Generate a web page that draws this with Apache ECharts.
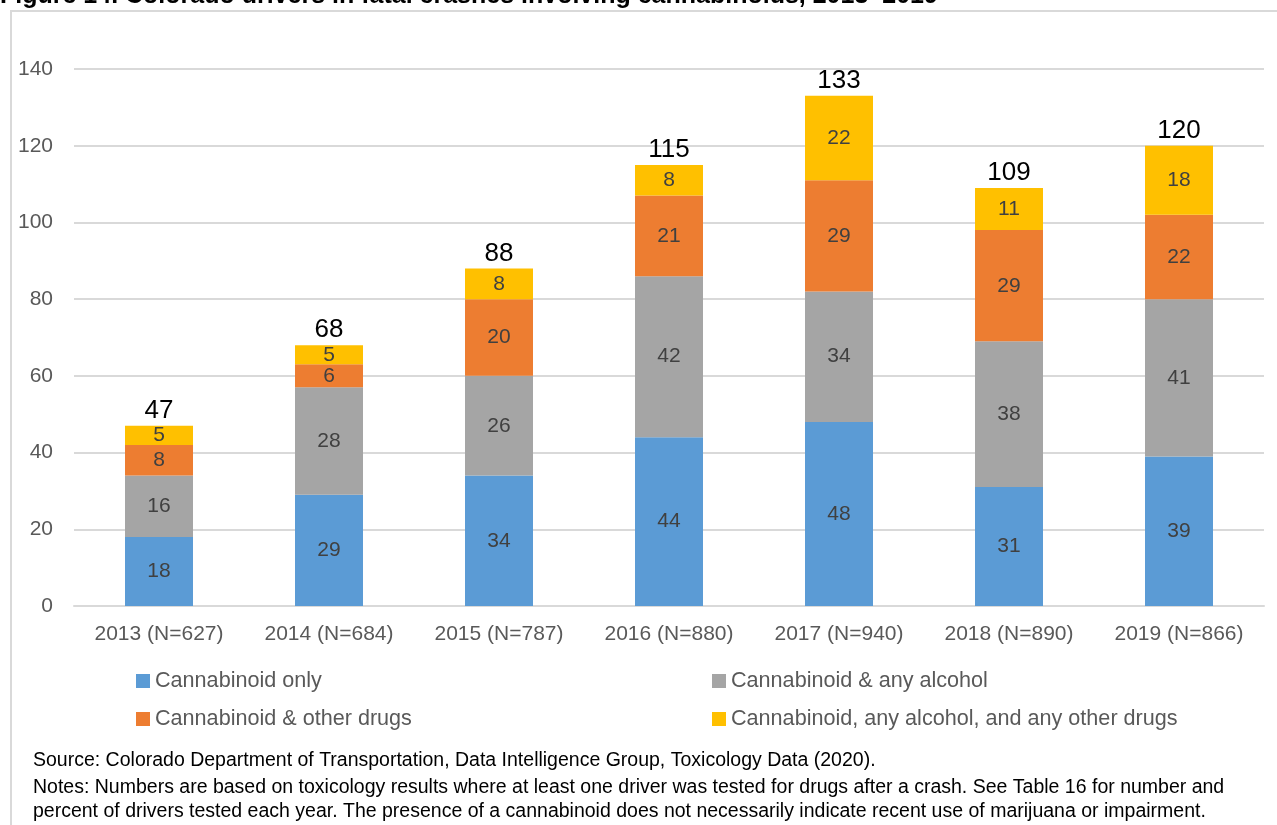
<!DOCTYPE html>
<html>
<head>
<meta charset="utf-8">
<script src="https://cdn.jsdelivr.net/npm/echarts@6/dist/echarts.min.js"></script>
<style>
  html, body { margin: 0; padding: 0; background: #fff; }
  #chart { width: 1277px; height: 825px; }
</style>
</head>
<body>
<div id="chart"></div>
<script>
var years = ['2013 (N=627)', '2014 (N=684)', '2015 (N=787)', '2016 (N=880)', '2017 (N=940)', '2018 (N=890)', '2019 (N=866)'];
var cannabinoidOnly = [18, 29, 34, 44, 48, 31, 39];
var withAlcohol = [16, 28, 26, 42, 34, 38, 41];
var withOtherDrugs = [8, 6, 20, 21, 29, 29, 22];
var withAll = [5, 5, 8, 8, 22, 11, 18];
var yTicks = [0, 20, 40, 60, 80, 100, 120, 140];

var totals = years.map(function (y, i) {
  return cannabinoidOnly[i] + withAlcohol[i] + withOtherDrugs[i] + withAll[i];
});

var font = 'Liberation Sans';
var chart = echarts.init(document.getElementById('chart'));

function seg(name, data, color) {
  return {
    name: name,
    type: 'bar',
    stack: 'total',
    barWidth: '40%',
    data: data,
    itemStyle: { color: color },
    label: {
      show: true,
      position: 'inside',
      color: '#404040',
      fontFamily: font,
      fontSize: 21
    }
  };
}

var option = {
  animation: false,
  textStyle: { fontFamily: font },
  grid: { left: 74, right: 13, top: 69, bottom: 219 },
  xAxis: {
    type: 'category',
    data: years,
    axisLine: { lineStyle: { color: '#d9d9d9', width: 2 } },
    axisTick: { show: false },
    axisLabel: { color: '#595959', fontSize: 21, margin: 18, fontFamily: font }
  },
  yAxis: {
    type: 'value',
    min: yTicks[0],
    max: yTicks[yTicks.length - 1],
    interval: 20,
    axisLine: { show: false },
    axisTick: { show: false },
    splitLine: { lineStyle: { color: '#d9d9d9', width: 2 } },
    axisLabel: { color: '#595959', fontSize: 21, margin: 21, fontFamily: font }
  },
  legend: [
    {
      orient: 'vertical',
      left: 131, top: 665,
      itemWidth: 14, itemHeight: 14, itemGap: 16,
      icon: 'rect',
      textStyle: { color: '#595959', fontSize: 21.6, fontFamily: font },
      data: ['Cannabinoid only', 'Cannabinoid & other drugs']
    },
    {
      orient: 'vertical',
      left: 707, top: 665,
      itemWidth: 14, itemHeight: 14, itemGap: 16,
      icon: 'rect',
      textStyle: { color: '#595959', fontSize: 21.6, fontFamily: font },
      data: ['Cannabinoid & any alcohol', 'Cannabinoid, any alcohol, and any other drugs']
    }
  ],
  graphic: [
    {
      type: 'rect',
      shape: { x: 11, y: 11, width: 1300, height: 900 },
      style: { fill: 'none', stroke: '#d9d9d9', lineWidth: 2 },
      silent: true
    },
    {
      type: 'text', left: 0, top: -16,
      style: {
        text: 'Figure 14. Colorado drivers in fatal crashes involving cannabinoids, 2013\u20132019',
        font: 'bold 25px ' + font, fill: '#000'
      }
    },
    {
      type: 'text', left: 33, top: 751,
      style: {
        text: 'Source: Colorado Department of Transportation, Data Intelligence Group, Toxicology Data (2020).',
        font: '19.5px ' + font, fill: '#000'
      }
    },
    {
      type: 'text', left: 33, top: 776,
      style: {
        text: 'Notes: Numbers are based on toxicology results where at least one driver was tested for drugs after a crash. See Table 16 for number and\npercent of drivers tested each year. The presence of a cannabinoid does not necessarily indicate recent use of marijuana or impairment.',
        font: '19.5px ' + font, fill: '#000', lineHeight: 24
      }
    }
  ],
  series: [
    seg('Cannabinoid only', cannabinoidOnly, '#5B9BD5'),
    seg('Cannabinoid & any alcohol', withAlcohol, '#A5A5A5'),
    seg('Cannabinoid & other drugs', withOtherDrugs, '#ED7D31'),
    seg('Cannabinoid, any alcohol, and any other drugs', withAll, '#FFC000'),
    {
      name: 'Total',
      type: 'bar',
      stack: 'total',
      barWidth: '40%',
      data: totals.map(function () { return 0; }),
      itemStyle: { color: 'transparent' },
      label: {
        show: true,
        position: 'top',
        distance: 2,
        color: '#000',
        fontSize: 26,
        fontFamily: font,
        formatter: function (p) { return totals[p.dataIndex]; }
      }
    }
  ]
};

chart.setOption(option);
</script>
</body>
</html>
